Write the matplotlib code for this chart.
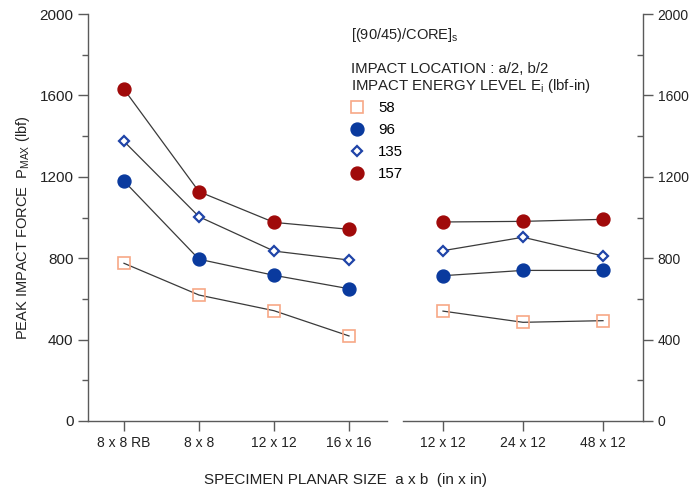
import matplotlib
matplotlib.use("Agg")
import matplotlib.pyplot as plt
from matplotlib.lines import Line2D
from matplotlib.ticker import MultipleLocator

plt.rcParams["font.family"] = ["Liberation Sans", "DejaVu Sans"]
plt.rcParams["mathtext.default"] = "regular"

# Specimen sizes, two groups plotted on separate x segments
sizes_a = ["8 x 8 RB", "8 x 8", "12 x 12", "16 x 16"]
sizes_b = ["12 x 12", "24 x 12", "48 x 12"]

energies = ["58", "96", "135", "157"]

# Peak impact force P_MAX (lbf), group A
pmax_a_58 = [775, 619, 542, 418]
pmax_a_96 = [1179, 795, 716, 650]
pmax_a_135 = [1374, 1004, 835, 791]
pmax_a_157 = [1630, 1127, 976, 942]

# Peak impact force P_MAX (lbf), group B
pmax_b_58 = [540, 485, 493]
pmax_b_96 = [714, 740, 740]
pmax_b_135 = [837, 903, 811]
pmax_b_157 = [978, 981, 991]

series_a = [pmax_a_58, pmax_a_96, pmax_a_135, pmax_a_157]
series_b = [pmax_b_58, pmax_b_96, pmax_b_135, pmax_b_157]

styles = [
    dict(marker="s", ms=8.5, mfc="none", mec="#F7A886", mew=1.2),
    dict(marker="o", ms=9.3, mfc="#0A3A9E", mec="#0A3A9E", mew=1.0),
    dict(marker="D", ms=5.5, mfc="white", mec="#1F44A8", mew=1.6),
    dict(marker="o", ms=9.3, mfc="#A00A0A", mec="#A00A0A", mew=1.0),
]

W, H = 693, 492
fig = plt.figure(figsize=(W / 100, H / 100), dpi=100)

def fx(px):
    return px / W

def fy(py):
    return 1 - py / H

txt = "#222222"
y0, y1 = 421, 14
ax_l = fig.add_axes([fx(88), fy(y0), fx(387) - fx(88), fy(y1) - fy(y0)])
ax_r = fig.add_axes([fx(403), fy(y0), fx(643) - fx(403), fy(y1) - fy(y0)])

axis_col = "#5a5a5a"
line_col = "#3a3a3a"

for ax, cats, data in ((ax_l, sizes_a, series_a), (ax_r, sizes_b, series_b)):
    x = list(range(len(cats)))
    for vals, st in zip(data, styles):
        ax.plot(x, vals, color=line_col, lw=0.9, zorder=2)
        ax.plot(x, vals, ls="none", zorder=3, **st)
    ax.set_ylim(0, 2000)
    ax.set_xticks(x)
    ax.set_xticklabels(cats, fontsize=10, color=txt)
    ax.tick_params(axis="x", direction="out", length=7.5, width=1, color=axis_col, pad=3)
    ax.patch.set_alpha(0)
    for s in ax.spines.values():
        s.set_color(axis_col)
        s.set_linewidth(1.0)
    ax.spines["top"].set_visible(False)

ax_l.set_xlim(-0.48, 3.507)
ax_r.set_xlim(-0.5, 2.5)

# left y axis
ax_l.spines["right"].set_visible(False)
ax_l.yaxis.set_major_locator(MultipleLocator(400))
ax_l.yaxis.set_minor_locator(MultipleLocator(200))
ax_l.tick_params(axis="y", which="major", direction="out", length=7.5, width=1,
                 color=axis_col, labelsize=11, labelcolor=txt, pad=3)
ax_l.tick_params(axis="y", which="minor", direction="out", length=4.5, width=1, color=axis_col)

# right y axis
ax_r.spines["left"].set_visible(False)
ax_r.yaxis.tick_right()
ax_r.yaxis.set_major_locator(MultipleLocator(400))
ax_r.yaxis.set_minor_locator(MultipleLocator(200))
ax_r.tick_params(axis="y", which="major", direction="out", length=7.5, width=1,
                 color=axis_col, labelsize=10, labelcolor=txt, pad=3,
                 left=False, right=True)
ax_r.tick_params(axis="y", which="minor", direction="in", length=4.5, width=1,
                 color=axis_col, left=False, right=True)

fig.text(fx(23), fy(228), r"PEAK IMPACT FORCE  P$_{MAX}$ (lbf)", fontsize=10.5,
         color=txt, rotation=90, ha="center", va="center")
fig.text(fx(345), fy(480), "SPECIMEN PLANAR SIZE  a x b  (in x in)", fontsize=11,
         color=txt, ha="center", va="center")

# annotation block and legend
fig.text(fx(351), fy(35), r"[(90/45)/CORE]$_{s}$", fontsize=10.5, color=txt,
         ha="left", va="center")
fig.text(fx(351), fy(69), "IMPACT LOCATION : a/2, b/2", fontsize=10.8, color=txt,
         ha="left", va="center")
fig.text(fx(351), fy(86), r"IMPACT ENERGY LEVEL E$_{i}$ (lbf-in)", fontsize=10.8,
         color=txt, ha="left", va="center")

handles = [Line2D([], [], ls="none", **st) for st in styles]
fig.legend(handles, energies, loc="upper left", bbox_to_anchor=(fx(348), fy(101)),
           frameon=False, fontsize=10.8, labelspacing=0.53, handletextpad=0.8,
           handlelength=1.2, borderaxespad=0, borderpad=0)

fig.savefig("out.png", dpi=100)
